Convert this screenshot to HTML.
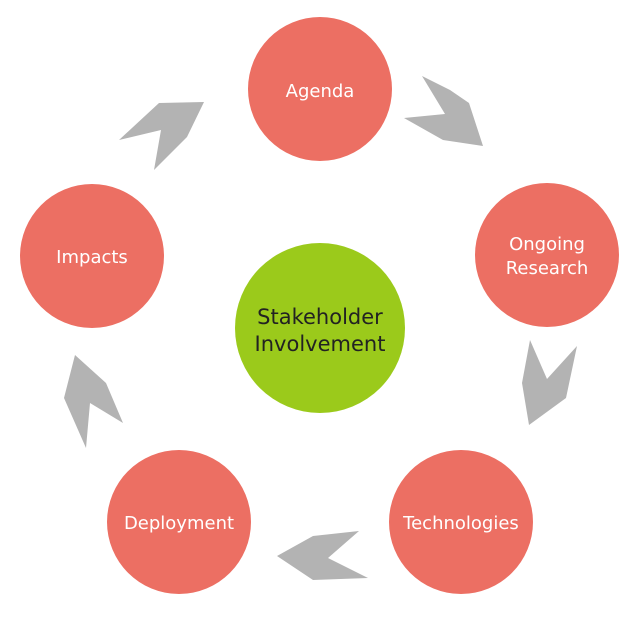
<!DOCTYPE html>
<html><head><style>
html,body{margin:0;padding:0;background:#fff;}
svg{display:block}
text{font-family:"DejaVu Sans","Liberation Sans",sans-serif;}
</style></head><body>
<svg width="640" height="617" viewBox="0 0 640 617">
<g fill="#b3b3b3">
<polygon points="422,76 450,90 469,103 483,146 443,140 404,118 445,114"/>
<polygon points="359,531 313,536 277,556 313,580 368,578 328,558"/>
<polygon points="530,340 547,379 577,346 566,398 529,425 522,383"/>
<polygon points="75,355 106,383 123,423 90,403 86,448 64,398"/>
<polygon points="159,103 204,102 187,137 154,170 161,130 119,140"/>
</g>
<g fill="#ec6f63">
<circle cx="320" cy="89" r="72"/>
<circle cx="547" cy="255" r="72"/>
<circle cx="461" cy="522" r="72"/>
<circle cx="179" cy="522" r="72"/>
<circle cx="92" cy="256" r="72"/>
</g>
<circle cx="320" cy="328" r="85" fill="#9bca1b"/>
<g fill="#fff" font-size="18" text-anchor="middle">
<text x="320" y="97">Agenda</text>
<text x="547" y="250">Ongoing</text>
<text x="547" y="274">Research</text>
<text x="461" y="529">Technologies</text>
<text x="179" y="529">Deployment</text>
<text x="92" y="263">Impacts</text>
</g>
<g fill="#222" font-size="21" text-anchor="middle">
<text x="320" y="324">Stakeholder</text>
<text x="320" y="351">Involvement</text>
</g>
</svg>
</body></html>
